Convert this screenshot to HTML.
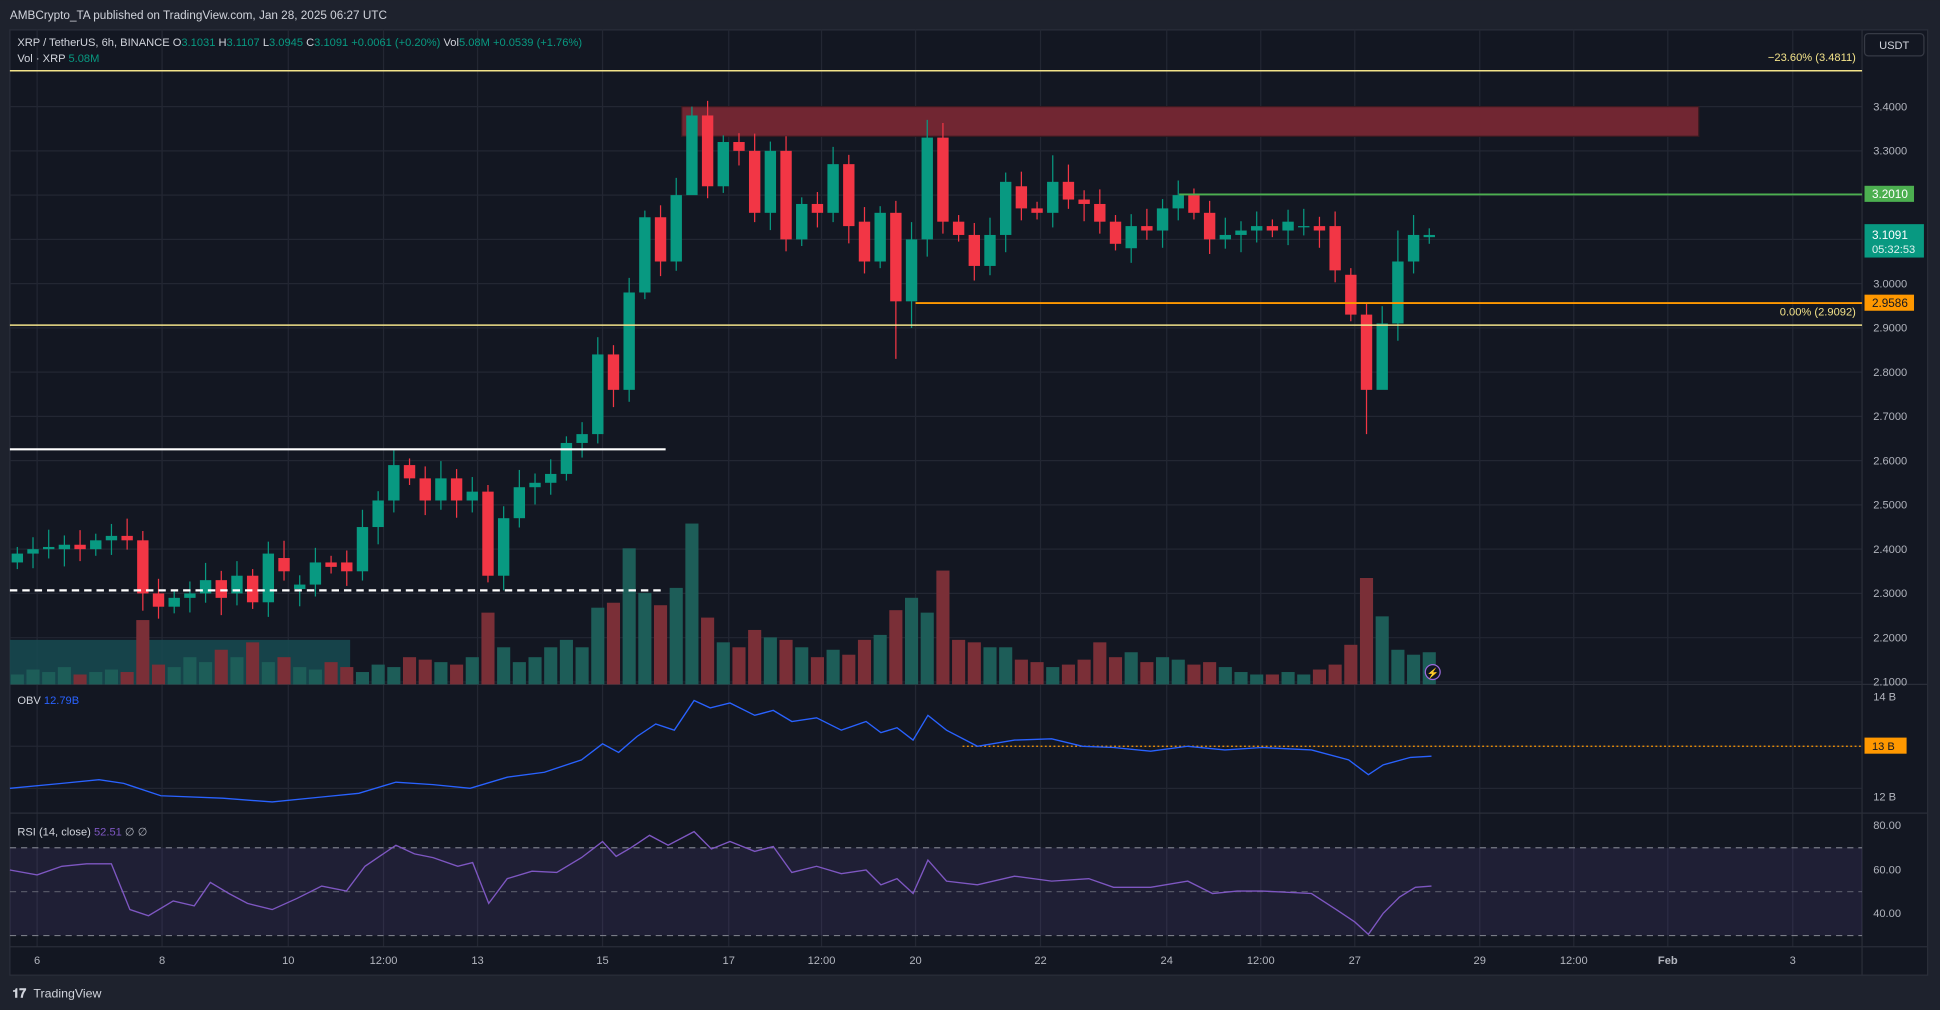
<!DOCTYPE html>
<html><head><meta charset="utf-8"><style>
html,body{margin:0;padding:0;background:#1e222d;}
svg{display:block;font-family:"Liberation Sans",sans-serif;}
</style></head><body>
<svg id="s" width="1940" height="1010" viewBox="0 0 1568 816" xmlns="http://www.w3.org/2000/svg">
<rect width="1568" height="816" fill="#1e222d"/>
<text x="8" y="15" fill="#d1d4dc" font-size="9.5">AMBCrypto_TA published on TradingView.com, Jan 28, 2025 06:27 UTC</text>
<rect x="8" y="24" width="1550" height="764" fill="#131722" stroke="#2a2e39"/>
<g id="grid" stroke="#232733" stroke-width="1"></g>
<line x1="8" y1="553" x2="1558" y2="553" stroke="#2a2e39"/>
<line x1="8" y1="657" x2="1558" y2="657" stroke="#2a2e39"/>
<line x1="8" y1="765" x2="1558" y2="765" stroke="#2a2e39"/>
<line x1="1505" y1="24" x2="1505" y2="788" stroke="#2a2e39"/>
<rect x="551" y="86" width="822" height="24" fill="#712632" stroke="#3a1a20"/>
<rect x="8" y="517" width="275" height="36" fill="#17484f" opacity="0.9"/>
<g id="vol"></g>
<g id="candles"></g>
<line x1="8" y1="57" x2="1505" y2="57" stroke="#f3e38a" stroke-width="1.2"/>
<line x1="8" y1="262.6" x2="1505" y2="262.6" stroke="#f3e38a" stroke-width="1.2"/>
<text x="1500" y="49" fill="#f3e38a" font-size="9" text-anchor="end">−23.60% (3.4811)</text>
<text x="1500" y="255" fill="#f3e38a" font-size="9" text-anchor="end">0.00% (2.9092)</text>
<line x1="740" y1="244.8" x2="1505" y2="244.8" stroke="#ff9800" stroke-width="1.5"/>
<line x1="953" y1="157" x2="1505" y2="157" stroke="#4caf50" stroke-width="1.5"/>
<line x1="8" y1="363" x2="538" y2="363" stroke="#ffffff" stroke-width="1.8"/>
<line x1="8" y1="477" x2="538" y2="477" stroke="#ffffff" stroke-width="1.8" stroke-dasharray="6,4"/>
<g id="pax" fill="#b2b5be" font-size="9"></g>
<rect x="1507" y="27" width="48" height="18" rx="3" fill="#131722" stroke="#363a45"/>
<text x="1531" y="39.5" fill="#d1d4dc" font-size="9" text-anchor="middle">USDT</text>
<rect x="1507" y="150" width="40" height="13" fill="#4caf50"/>
<text x="1513" y="160" fill="#fff" font-size="9.5">3.2010</text>
<rect x="1507" y="181" width="48" height="27" fill="#089981"/>
<text x="1513" y="193" fill="#fff" font-size="9.5">3.1091</text>
<text x="1513" y="204.5" fill="#e0f2f1" font-size="9">05:32:53</text>
<rect x="1507" y="238" width="40" height="13" fill="#ff9800"/>
<text x="1513" y="248" fill="#131722" font-size="9.5">2.9586</text>
<line x1="778" y1="603" x2="1505" y2="603" stroke="#ff9800" stroke-width="1" stroke-dasharray="1.5,2"/>
<polyline id="obv" fill="none" stroke="#2962ff" stroke-width="1.1"/>
<text x="1514" y="566" fill="#b2b5be" font-size="9">14 B</text>
<rect x="1507" y="596" width="34" height="13" fill="#ff9800"/>
<text x="1513" y="606" fill="#131722" font-size="9">13 B</text>
<text x="1514" y="647" fill="#b2b5be" font-size="9">12 B</text>
<text x="14" y="569" fill="#d1d4dc" font-size="9">OBV <tspan fill="#2962ff">12.79B</tspan></text>
<rect x="8" y="685" width="1497" height="71" fill="#7e57c2" opacity="0.12"/>
<line x1="8" y1="685" x2="1505" y2="685" stroke="#787b86" stroke-dasharray="5,4"/>
<line x1="8" y1="720.5" x2="1505" y2="720.5" stroke="#787b86" stroke-dasharray="5,4" opacity="0.6"/>
<line x1="8" y1="756" x2="1505" y2="756" stroke="#787b86" stroke-dasharray="5,4"/>
<polyline id="rsi" fill="none" stroke="#7e57c2" stroke-width="1.1"/>
<text x="1514" y="670" fill="#b2b5be" font-size="9">80.00</text>
<text x="1514" y="706" fill="#b2b5be" font-size="9">60.00</text>
<text x="1514" y="741" fill="#b2b5be" font-size="9">40.00</text>
<text x="14" y="675" fill="#d1d4dc" font-size="9">RSI (14, close) <tspan fill="#7e57c2">52.51</tspan> <tspan fill="#b2b5be">∅ ∅</tspan></text>
<g id="tax" fill="#b2b5be" font-size="9" text-anchor="middle"></g>
<text x="14" y="37" fill="#d1d4dc" font-size="9">XRP / TetherUS, 6h, BINANCE  O<tspan fill="#089981">3.1031</tspan>  H<tspan fill="#089981">3.1107</tspan>  L<tspan fill="#089981">3.0945</tspan>  C<tspan fill="#089981">3.1091</tspan>  <tspan fill="#089981">+0.0061 (+0.20%)</tspan>  Vol<tspan fill="#089981">5.08M</tspan>  <tspan fill="#089981">+0.0539 (+1.76%)</tspan></text>
<text x="14" y="50" fill="#d1d4dc" font-size="9">Vol · XRP  <tspan fill="#089981">5.08M</tspan></text>
<circle cx="1158" cy="543" r="6" fill="#131722" stroke="#9c6ade"/>
<text x="1158" y="546.5" fill="#9c6ade" font-size="8" text-anchor="middle">⚡</text>
<text x="10" y="806" fill="#d1d4dc" font-size="10" font-weight="bold">𝟏𝟕</text>
<text x="27" y="806" fill="#d1d4dc" font-size="10">TradingView</text>
</svg>
<script>
const NS="http://www.w3.org/2000/svg";
function el(p,t,a){const e=document.createElementNS(NS,t);for(const k in a)e.setAttribute(k,a[k]);document.getElementById(p).appendChild(e);return e;}
const Y=p=>86+(3.4-p)*357.7;
for(let p=2.1;p<=3.45;p+=0.1){const y=Y(p);if(y>24&&y<553)el('grid','line',{x1:8,x2:1505,y1:y,y2:y});
 if(y>50&&y<556)el('pax','text',{x:1514,y:y+3}).textContent=p.toFixed(4);}
[603,637].forEach(y=>el('grid','line',{x1:8,x2:1505,y1:y,y2:y}));
const ticks=[[30,'6'],[131,'8'],[233,'10'],[310,'12:00'],[386,'13'],[487,'15'],[589,'17'],[664,'12:00'],[740,'20'],[841,'22'],[943,'24'],[1019,'12:00'],[1095,'27'],[1196,'29'],[1272,'12:00'],[1348,'Feb'],[1449,'3']];
ticks.forEach(([x,l])=>{el('grid','line',{x1:x,x2:x,y1:24,y2:765});const t=el('tax','text',{x:x,y:779});t.textContent=l;if(l=='Feb')t.setAttribute('font-weight','bold');});
const oc=[[2.37,2.39],[2.39,2.40],[2.40,2.405],[2.40,2.41],[2.41,2.40],[2.40,2.42],[2.42,2.43],[2.43,2.42],[2.42,2.30],[2.30,2.27],[2.27,2.29],[2.29,2.30],[2.30,2.33],[2.33,2.29],[2.30,2.34],[2.34,2.28],[2.28,2.39],[2.38,2.35],[2.31,2.32],[2.32,2.37],[2.37,2.36],[2.37,2.35],[2.35,2.45],[2.45,2.51],[2.51,2.59],[2.59,2.56],[2.56,2.51],[2.51,2.56],[2.56,2.51],[2.51,2.53],[2.53,2.34],[2.34,2.47],[2.47,2.54],[2.54,2.55],[2.55,2.57],[2.57,2.64],[2.64,2.66],[2.66,2.84],[2.84,2.76],[2.76,2.98],[2.98,3.15],
[3.15,3.05],[3.05,3.20],[3.20,3.38],[3.38,3.22],[3.22,3.32],[3.32,3.30],[3.30,3.16],[3.16,3.30],[3.30,3.10],[3.10,3.18],[3.18,3.16],[3.16,3.27],[3.27,3.13],[3.14,3.05],[3.05,3.16],[3.16,2.96],[2.96,3.10],[3.10,3.33],[3.33,3.14],[3.14,3.11],[3.11,3.04],[3.04,3.11],[3.11,3.23],[3.22,3.17],[3.17,3.16],[3.16,3.23],[3.23,3.19],[3.19,3.18],[3.18,3.14],[3.14,3.09],[3.08,3.13],[3.13,3.12],[3.12,3.17],[3.17,3.20],[3.20,3.16],[3.16,3.10],[3.10,3.11],[3.11,3.12],[3.12,3.13],[3.13,3.12],[3.12,3.14],[3.13,3.13],[3.13,3.12],[3.13,3.03],[3.02,2.93],[2.93,2.76],[2.76,2.91],[2.91,3.05],[3.05,3.11],[3.105,3.11]];
const lows={86:2.66,56:2.83,87:2.77,57:2.90,43:3.28};const highs={43:3.40,58:3.37,46:3.34,66:3.29,89:3.155,88:3.12};
const vh=[8,12,10,14,8,10,12,10,52,16,14,22,18,28,22,34,18,22,14,12,18,14,10,16,14,22,20,18,16,22,58,30,18,22,30,36,30,62,66,110,74,64,78,130,54,34,30,44,38,36,30,22,28,24,36,40,60,70,58,92,36,34,30,30,20,18,14,16,20,34,22,26,18,22,20,16,18,14,10,8,8,10,8,12,16,32,86,55,28,24,26];
for(let i=0;i<oc.length;i++){const x=14+i*12.68;const [o,c]=oc[i];const g=c>=o;const col=g?'#089981':'#f23645';
 const hi=highs[i]||Math.max(o,c)+0.015+((i*7)%5)*0.006;const lo=lows[i]||Math.min(o,c)-0.015-((i*3)%5)*0.006;
 const v=vh[i]||15;el('vol','rect',{x:x-5.3,y:553-v,width:10.6,height:v,fill:g?'#1d5d58':'#7a2f37'});
 el('candles','line',{x1:x,x2:x,y1:Y(hi),y2:Y(lo),stroke:col,'stroke-width':1});
 const t=Y(Math.max(o,c)),b=Y(Math.min(o,c));el('candles','rect',{x:x-4.6,y:t,width:9.2,height:Math.max(1,b-t),fill:col});}
const obv=[[8,637],[50,633],[80,630],[100,633],[130,643],[180,645],[220,648],[260,644],[290,641],[320,632],[350,634],[380,637],[410,628],[440,624],[470,614],[487,601],[500,608],[515,595],[530,585],[545,590],[561,566],[574,572],[590,568],[610,578],[625,574],[640,583],[660,580],[680,590],[700,583],[712,592],[725,588],[738,598],[750,578],[765,590],[790,603],[820,598],[850,597],[875,603],[900,604],[930,607],[960,603],[990,606],[1020,604],[1060,606],[1090,614],[1106,626],[1118,618],[1140,612],[1157,611]];
document.getElementById('obv').setAttribute('points',obv.map(p=>p.join(',')).join(' '));
const rsi=[[8,703],[30,707],[50,700],[70,698],[90,698],[105,735],[120,740],[140,728],[157,732],[170,713],[185,722],[200,730],[220,735],[240,726],[260,716],[280,720],[295,700],[320,683],[335,690],[350,693],[370,700],[382,697],[395,730],[410,710],[430,704],[450,705],[470,693],[487,680],[498,692],[510,685],[525,675],[540,683],[561,672],[575,686],[590,680],[610,688],[625,684],[640,705],[660,700],[680,706],[700,703],[712,715],[725,710],[738,722],[750,695],[765,712],[790,715],[820,708],[850,712],[880,710],[900,717],[930,717],[960,712],[980,722],[1000,720],[1020,720],[1060,722],[1080,735],[1095,745],[1106,755],[1118,738],[1131,725],[1144,717],[1157,716]];
document.getElementById('rsi').setAttribute('points',rsi.map(p=>p.join(',')).join(' '));
</script>
</body></html>
